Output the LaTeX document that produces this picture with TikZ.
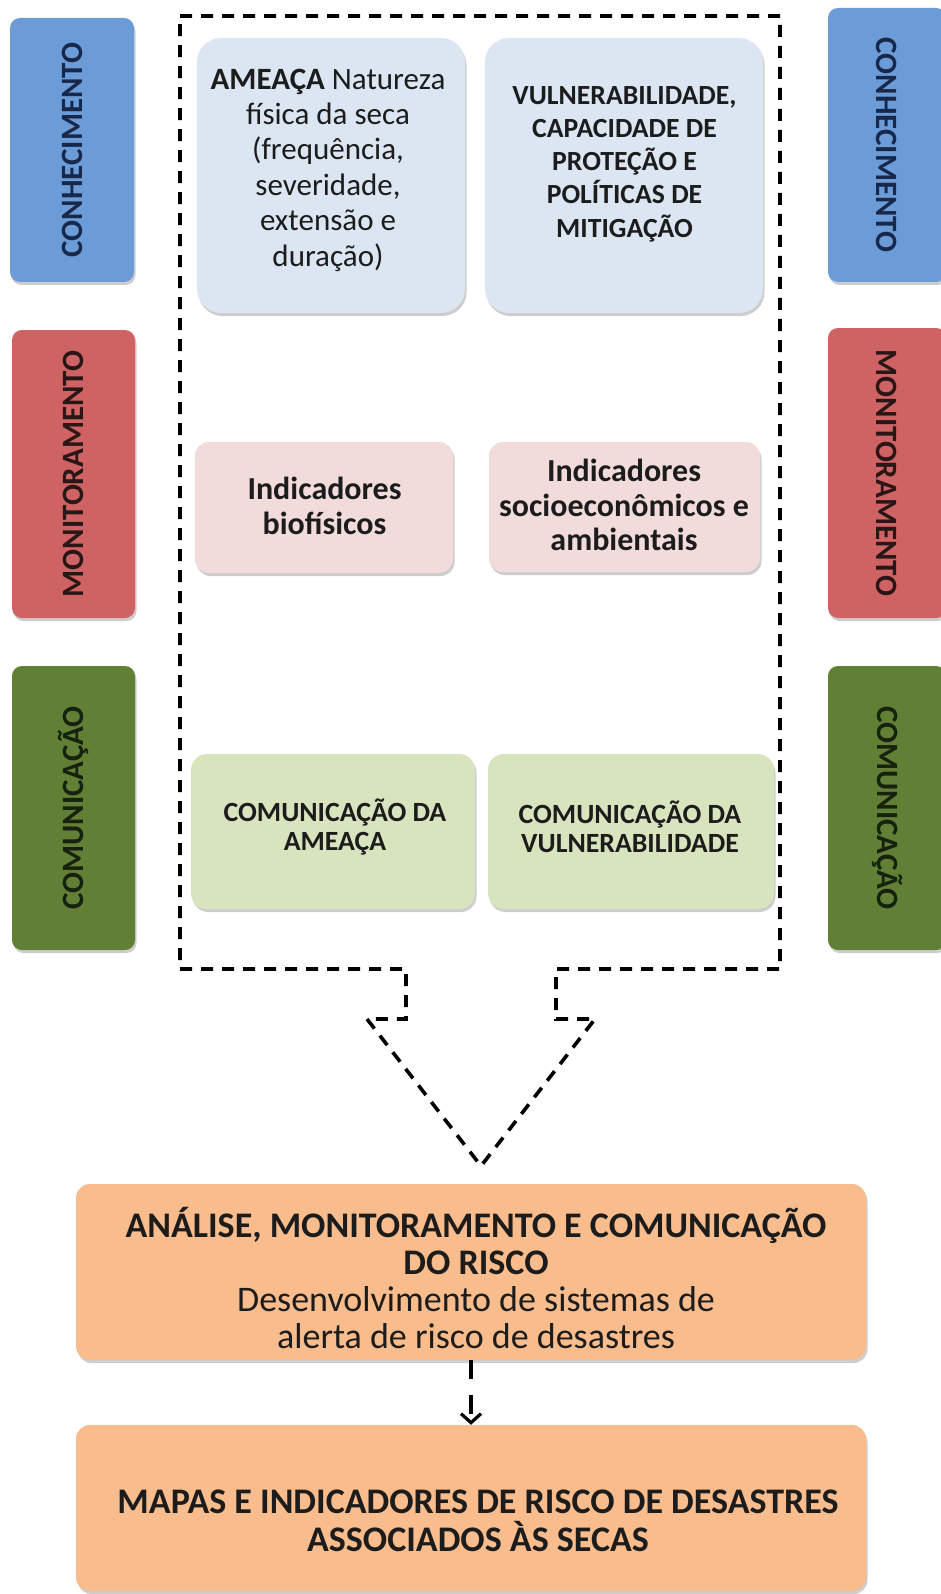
\documentclass[tikz,border=0pt]{standalone}
\usepackage{fontspec}
\setmainfont{Carlito}
\usetikzlibrary{arrows.meta,shadows}
\definecolor{barblue}{HTML}{6C9CD8}
\definecolor{barred}{HTML}{CF6363}
\definecolor{bargreen}{HTML}{617F35}
\definecolor{lblue}{HTML}{DCE5F2}
\definecolor{lpink}{HTML}{F2DCDB}
\definecolor{lgreen}{HTML}{D8E4BD}
\definecolor{lorange}{HTML}{F9BC8C}
\definecolor{txtc}{HTML}{1C1C1C}
\definecolor{bluetxt}{HTML}{18284A}
\definecolor{redtxt}{HTML}{2A1616}
\definecolor{greentxt}{HTML}{17220E}
\tikzset{
  shade/.style={drop shadow={shadow xshift=1.5pt,shadow yshift=-3pt,opacity=0.28,fill=black!70}},
  sidebar/.style={draw=none,rounded corners=10pt,shade,inner sep=0pt},
  innerbox/.style={draw=none,rounded corners=#1,shade,inner sep=0pt},
  txt/.style={align=center,inner sep=0pt,text=txtc},
  sidetxt/.style={inner sep=0pt,font=\fontsize{31}{36}\selectfont\bfseries},
  frame/.style={draw=black,line width=3.6pt,dash pattern=on 12pt off 9pt},
}
\begin{document}
\begin{tikzpicture}[x=1pt,y=-1pt]
\useasboundingbox (0,0) rectangle (941,1594);

% side bars left
\node[sidebar,fill=barblue,minimum width=124pt,minimum height=264pt] (kL) at (72,150) {};
\node[sidebar,fill=barred,minimum width=123pt,minimum height=288pt] (mL) at (73.5,474) {};
\node[sidebar,fill=bargreen,minimum width=123pt,minimum height=284pt] (cL) at (73.5,808) {};
\node[sidetxt,text=bluetxt,rotate=90] (kLt) at (kL.center) {CONHECIMENTO};
\node[sidetxt,text=redtxt,rotate=90] (mLt) at (mL.center) {MONITORAMENTO};
\node[sidetxt,text=greentxt,rotate=90] (cLt) at (cL.center) {COMUNICAÇÃO};

% side bars right
\node[sidebar,fill=barblue,minimum width=118pt,minimum height=274pt] (kR) at (887,145) {};
\node[sidebar,fill=barred,minimum width=118pt,minimum height=290pt] (mR) at (887,473) {};
\node[sidebar,fill=bargreen,minimum width=118pt,minimum height=284pt] (cR) at (887,808) {};
\node[sidetxt,text=bluetxt,rotate=-90] (kRt) at (kR.center) {CONHECIMENTO};
\node[sidetxt,text=redtxt,rotate=-90] (mRt) at (mR.center) {MONITORAMENTO};
\node[sidetxt,text=greentxt,rotate=-90] (cRt) at (cR.center) {COMUNICAÇÃO};

% dashed frame with block arrow
\draw[frame] (180,16) -- (780,16) -- (780,969) -- (556,969) -- (556,1019) -- (595,1019)
  -- (481,1166) -- (367,1019) -- (406,1019) -- (406,969) -- (180,969) -- cycle;

% inner boxes
\node[innerbox=24pt,fill=lblue,minimum width=268pt,minimum height=275pt] (ameaca) at (331,175.5) {};
\node[innerbox=24pt,fill=lblue,minimum width=278pt,minimum height=275pt] (vuln) at (624,175.5) {};
\node[innerbox=14pt,fill=lpink,minimum width=258pt,minimum height=131pt] (bio) at (324,507.5) {};
\node[innerbox=14pt,fill=lpink,minimum width=271pt,minimum height=130pt] (socio) at (624.5,507) {};
\node[innerbox=16pt,fill=lgreen,minimum width=284pt,minimum height=155pt] (comA) at (333,831.5) {};
\node[innerbox=16pt,fill=lgreen,minimum width=286pt,minimum height=155pt] (comV) at (631,831.5) {};

\node[txt,font=\fontsize{31}{35.4}\selectfont] (ameacaT) at (328,170)
  {\textbf{AMEAÇA} Natureza\\física da seca\\(frequência,\\severidade,\\extensão e\\duração)};
\node[txt,font=\fontsize{27.7}{33.3}\selectfont\bfseries] (vulnT) at (624.5,164)
  {VULNERABILIDADE,\\CAPACIDADE DE\\PROTEÇÃO E\\POLÍTICAS DE\\MITIGAÇÃO};
\node[txt,font=\fontsize{32}{35}\selectfont\bfseries] (bioT) at (324.5,506)
  {Indicadores\\biofísicos};
\node[txt,font=\fontsize{32}{34.5}\selectfont\bfseries] (socioT) at (624,505)
  {Indicadores\\socioeconômicos e\\ambientais};
\node[txt,font=\fontsize{27.8}{28.5}\selectfont\bfseries] (comAT) at (335,827)
  {COMUNICAÇÃO DA\\AMEAÇA};
\node[txt,font=\fontsize{27.8}{28.5}\selectfont\bfseries] (comVT) at (630,827)
  {COMUNICAÇÃO DA\\VULNERABILIDADE};

% bottom boxes
\node[innerbox=14pt,fill=lorange,minimum width=790pt,minimum height=176pt] (o1) at (471,1272) {};
\node[innerbox=14pt,fill=lorange,minimum width=790pt,minimum height=166pt] (o2) at (471,1508) {};
\node[txt,font=\fontsize{36}{37}\selectfont] (o1T) at (476,1278)
  {\textbf{ANÁLISE, MONITORAMENTO E COMUNICAÇÃO}\\\textbf{DO RISCO}\\Desenvolvimento de sistemas de\\alerta de risco de desastres};
\node[txt,font=\fontsize{36}{38.5}\selectfont\bfseries] (o2T) at (478,1521)
  {MAPAS E INDICADORES DE RISCO DE DESASTRES\\ASSOCIADOS ÀS SECAS};

\draw[line width=3.6pt,dash pattern=on 19pt off 16pt,-{Straight Barb[length=9pt,width=20pt,line width=3.2pt]}]
  (o1.south) -- (o2.north);
\end{tikzpicture}
\end{document}
